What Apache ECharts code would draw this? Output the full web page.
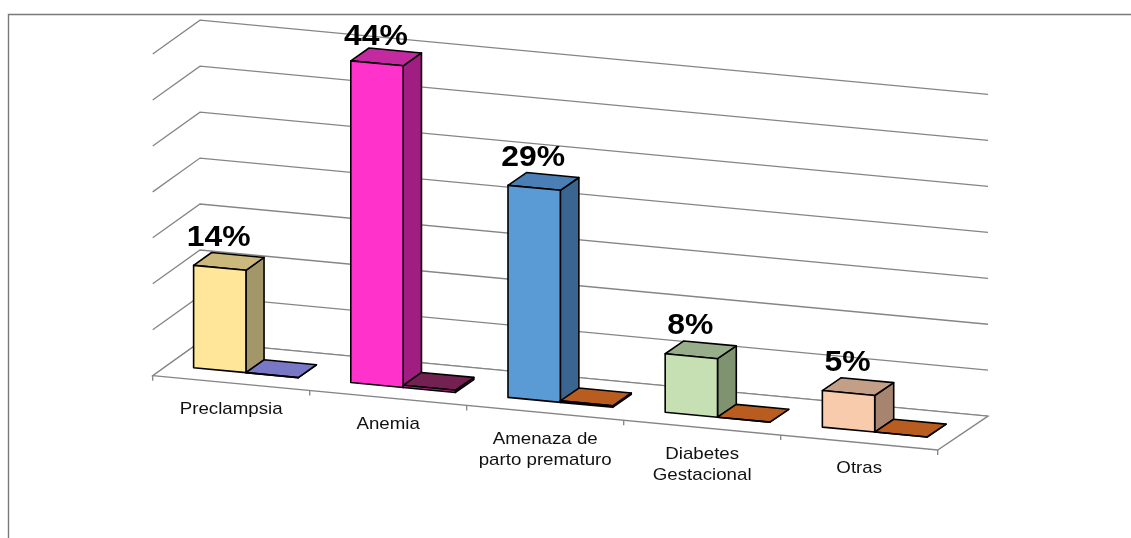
<!DOCTYPE html>
<html>
<head>
<meta charset="utf-8">
<script src="https://cdn.jsdelivr.net/npm/echarts@6/dist/echarts.min.js"></script>
<style>
  html, body { margin: 0; padding: 0; background: #ffffff; }
  #chart { width: 1131px; height: 538px; }
</style>
</head>
<body>
<div id="chart"></div>
<script>
// ---- data ----
const categories = ['Preclampsia', 'Anemia', 'Amenaza de\nparto prematuro', 'Diabetes\nGestacional', 'Otras'];
const shares = [14, 44, 29, 8, 5];          // main series, %
const minorShares = [0, 0.3, 0.2, 0, 0];    // second series, %
const shareLabels = ['14%', '44%', '29%', '8%', '5%'];
const axisMax = 44;
const gridDivisions = 7;

// ---- colours: [front, top, side] ----
const mainColors = [
  ['#FFE699', '#CBB87C', '#A39668'],
  ['#FF33CC', '#C42AA0', '#A01E82'],
  ['#5B9BD5', '#4A7EB4', '#3B6591'],
  ['#C6E0B4', '#98AD89', '#7F9370'],
  ['#F8CBAD', '#C49F88', '#A6846F']
];
const minorColors = [
  ['#6A6AB8', '#7878C6', '#5C5CA6'],
  ['#C82C9C', '#732150', '#8A2468'],
  ['#E27A28', '#B85C20', '#9A4C1A'],
  ['#E27A28', '#B85C20', '#9A4C1A'],
  ['#E27A28', '#B85C20', '#9A4C1A']
];
const GRID_COLOR = '#858585';

// ---- oblique projection of the 3D plot box ----
const SLOPE = 0.0946;            // front edge drop per pixel along the category axis
const DEPTH_DX = [47.3, 50.3];   // horizontal shift of the full depth, left / right
const DEPTH_DY = -33.8;          // vertical shift of the full depth
const BAR_D0 = 0.31, BAR_D1 = 0.69;
const SLOTS = [[0.167, 0.5], [0.5, 0.833]];

function project(api, cs, xs, v, d) {
  const t = (xs - cs.x) / cs.width;
  const dx = DEPTH_DX[0] + (DEPTH_DX[1] - DEPTH_DX[0]) * t;
  const y = api.coord([0, v])[1];
  return [xs + dx * d, y + (xs - cs.x) * SLOPE + DEPTH_DY * d];
}

function band(api, idx) {
  const w = api.size([1, 0])[0];
  return { left: api.coord([idx, 0])[0] - w / 2, width: w };
}

function boxShapes(api, cs, xa, xb, v, col) {
  const P = (x, val, d) => project(api, cs, x, val, d);
  const fbl = P(xa, 0, BAR_D0), fbr = P(xb, 0, BAR_D0);
  const ftl = P(xa, v, BAR_D0), ftr = P(xb, v, BAR_D0);
  const btl = P(xa, v, BAR_D1), btr = P(xb, v, BAR_D1), bbr = P(xb, 0, BAR_D1);
  const edge = { stroke: '#000000', lineWidth: 1.6, lineJoin: 'round' };
  return [
    { type: 'polygon', shape: { points: [ftr, btr, bbr, fbr] }, style: Object.assign({ fill: col[2] }, edge) },
    { type: 'polygon', shape: { points: [ftl, ftr, btr, btl] }, style: Object.assign({ fill: col[1] }, edge) },
    { type: 'polygon', shape: { points: [fbl, fbr, ftr, ftl] }, style: Object.assign({ fill: col[0] }, edge) }
  ];
}

const gridValues = [];
for (let i = 0; i <= gridDivisions; i++) gridValues.push(axisMax * i / gridDivisions);

const chart = echarts.init(document.getElementById('chart'), null, { renderer: 'canvas' });

chart.setOption({
  animation: false,
  backgroundColor: '#ffffff',
  graphic: [{
    type: 'rect',
    shape: { x: 8.5, y: 14.5, width: 1300, height: 700 },
    style: { fill: 'none', stroke: '#7a7a7a', lineWidth: 1.4 },
    silent: true
  }],
  grid: { left: 152.7, top: 54, width: 785, height: 321.7 },
  xAxis: { type: 'category', data: categories, show: false },
  yAxis: { type: 'value', min: 0, max: axisMax, show: false },
  series: [
    {
      // back wall and side wall gridlines
      type: 'custom',
      name: 'walls',
      silent: true,
      z: 1,
      data: gridValues.map(v => [0, v]),
      renderItem: function (params, api) {
        const cs = params.coordSys;
        const v = api.value(1);
        const fl = project(api, cs, cs.x, v, 0);
        const bl = project(api, cs, cs.x, v, 1);
        const br = project(api, cs, cs.x + cs.width, v, 1);
        const ln = { stroke: GRID_COLOR, lineWidth: 1.3, fill: null };
        return {
          type: 'group',
          children: [
            { type: 'polyline', shape: { points: [fl, bl, br] }, style: ln }
          ]
        };
      }
    },
    {
      // floor outline and category ticks
      type: 'custom',
      name: 'floor',
      silent: true,
      z: 1,
      data: [[0, 0]],
      renderItem: function (params, api) {
        const cs = params.coordSys;
        const fl = project(api, cs, cs.x, 0, 0);
        const fr = project(api, cs, cs.x + cs.width, 0, 0);
        const br = project(api, cs, cs.x + cs.width, 0, 1);
        const bl = project(api, cs, cs.x, 0, 1);
        const ln = { stroke: GRID_COLOR, lineWidth: 1.3, fill: null };
        const children = [
          { type: 'polygon', shape: { points: [fl, fr, br, bl] }, style: { stroke: GRID_COLOR, lineWidth: 1.3, fill: '#ffffff' } }
        ];
        for (let i = 0; i <= categories.length; i++) {
          const b = band(api, Math.min(i, categories.length - 1));
          const xs = i < categories.length ? b.left : b.left + b.width;
          const p = project(api, cs, xs, 0, 0);
          children.push({ type: 'line', shape: { x1: p[0], y1: p[1], x2: p[0], y2: p[1] + 5 }, style: ln });
        }
        return { type: 'group', children: children };
      }
    },
    {
      type: 'custom',
      name: 'Serie 1',
      z: 2,
      data: shares.map((v, i) => [i, v]),
      renderItem: function (params, api) {
        const cs = params.coordSys;
        const idx = api.value(0);
        const v = api.value(1);
        const b = band(api, idx);
        const xa = b.left + b.width * SLOTS[0][0];
        const xb = b.left + b.width * SLOTS[0][1];
        const children = boxShapes(api, cs, xa, xb, v, mainColors[idx]);
        const c = project(api, cs, (xa + xb) / 2, v, BAR_D0);
        const ly = Math.max(c[1] - 30, cs.y - 17);
        children.push({
          type: 'text',
          x: c[0] - 1,
          y: ly,
          scaleX: 1.1,
          style: {
            text: shareLabels[idx],
            fill: '#000000',
            font: 'bold 29px "Liberation Sans", Arial, sans-serif',
            align: 'center', verticalAlign: 'middle',
            textAlign: 'center', textVerticalAlign: 'middle'
          }
        });
        return { type: 'group', children: children };
      }
    },
    {
      type: 'custom',
      name: 'Serie 2',
      z: 2,
      data: minorShares.map((v, i) => [i, v]),
      renderItem: function (params, api) {
        const cs = params.coordSys;
        const idx = api.value(0);
        const v = api.value(1);
        const b = band(api, idx);
        const xa = b.left + b.width * SLOTS[1][0];
        const xb = b.left + b.width * SLOTS[1][1];
        return { type: 'group', children: boxShapes(api, cs, xa, xb, v, minorColors[idx]) };
      }
    },
    {
      // category names along the slanted front edge
      type: 'custom',
      name: 'categories',
      silent: true,
      z: 3,
      data: categories.map((c, i) => [i, 0]),
      renderItem: function (params, api) {
        const cs = params.coordSys;
        const idx = api.value(0);
        const b = band(api, idx);
        const p = project(api, cs, b.left + b.width / 2, 0, 0);
        return {
          type: 'text',
          x: p[0],
          y: p[1] + 15.5,
          scaleX: 1.1,
          style: {
            text: categories[idx],
            fill: '#111111',
            font: '17px "Liberation Sans", Arial, sans-serif',
            lineHeight: 21.5,
            align: 'center', verticalAlign: 'top',
            textAlign: 'center', textVerticalAlign: 'top'
          }
        };
      }
    }
  ]
});
</script>
</body>
</html>
